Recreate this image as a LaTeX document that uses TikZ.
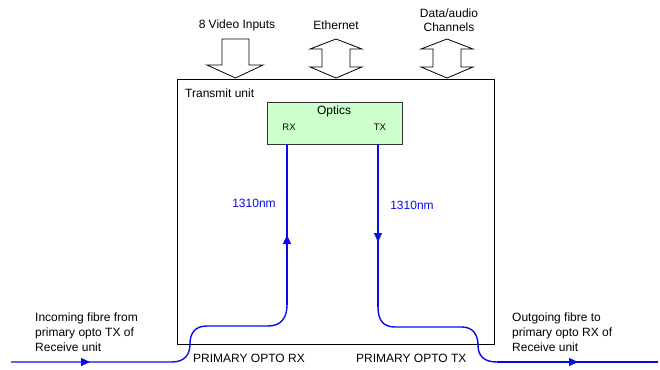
\documentclass[tikz,border=0pt]{standalone}
\usepackage{fontspec}
\setmainfont{Liberation Sans}
\usetikzlibrary{arrows.meta,decorations.markings}
\definecolor{fibre}{RGB}{10,10,235}
\definecolor{opticsfill}{RGB}{204,255,204}
\tikzset{
  x=1pt, y=-1pt,
  lbl/.style={font=\fontsize{12}{15}\selectfont, inner sep=0pt},
  small/.style={font=\fontsize{9.5}{11}\selectfont, inner sep=0pt},
  blue lbl/.style={lbl, text=fibre},
  fib/.style={draw=fibre, line width=1.4pt},
  blockarrow/.style={draw=black, fill=white, line width=0.8pt, line join=miter},
  markat/.style={postaction=decorate, decoration={markings,
      mark=at position #1 with {\arrow{Triangle[length=9pt,width=8pt]}}}},
}
\begin{document}
\begin{tikzpicture}
\useasboundingbox (0,0) rectangle (660,369);

% block arrows at the top
\draw[blockarrow] (222,39) -- (249,39) -- (249,65) -- (263,65) -- (235.5,78) -- (207,65) -- (222,65) -- cycle;
\foreach \cx in {336,447}{
  \draw[blockarrow] (\cx,39) -- (\cx+26,49) -- (\cx+14,49) -- (\cx+14,67) -- (\cx+26,67) -- (\cx,78)
    -- (\cx-26,67) -- (\cx-14,67) -- (\cx-14,49) -- (\cx-26,49) -- cycle;
}
\node[lbl] (vin) at (237,25) {8 Video Inputs};
\node[lbl] (eth) at (336,25) {Ethernet};
\node[lbl, align=center, font=\fontsize{12}{14}\selectfont] (dac) at (449,20) {Data/audio\\Channels};

% transmit unit
\node[draw, line width=0.9pt, minimum width=317pt, minimum height=265pt, anchor=north west, inner sep=0pt] (tu) at (177,79) {};
\node[lbl, anchor=west] (tul) at (185,93) {Transmit unit};

% optics
\node[draw=black!80, fill=opticsfill, line width=0.9pt, minimum width=135pt, minimum height=42pt, anchor=north west, inner sep=0pt] (optics) at (267,102) {};
\node[lbl] (opl) at (334,111) {Optics};
\node[small] (rxl) at (289,127) {RX};
\node[small] (txl) at (380,127) {TX};

% coordinates of the fibre paths
\coordinate (inL) at (11,362);
\coordinate (rxk) at (287,305);
\coordinate (rxt) at (287,144);
\coordinate (txt) at (378,144);
\coordinate (txk) at (378,307);
\coordinate (outk) at (497,362);
\coordinate (outR) at (658,362);

% receive path
\draw[fib, markat=79pt] (inL) -- (172,362)
   .. controls (185,362) and (190,354) .. (190,344)
   .. controls (190,333) and (195,326) .. (207,326) -- (268,326)
   .. controls (281,326) and (287,318) .. (rxk);
\draw[fib, markat=70pt, line cap=butt] (rxk) -- (rxt);

% transmit path
\draw[fib, markat=98pt] (txt) -- (txk);
\draw[fib] (txk) .. controls (378,320) and (383,327) .. (395,327) -- (462,327)
   .. controls (473,327) and (478,335) .. (478,345)
   .. controls (478,356) and (484,362) .. (outk);
\draw[fib, markat=81pt] (outk) -- (outR);

% blue wavelength labels
\node[blue lbl] (w1) at (254,203) {1310nm};
\node[blue lbl] (w2) at (412,205) {1310nm};

% port labels
\node[lbl, anchor=west] (prx) at (193,358) {PRIMARY OPTO RX};
\node[lbl, anchor=west] (ptx) at (356,358) {PRIMARY OPTO TX};

% fibre descriptions
\node[lbl, anchor=west, align=left] (inc) at (35,332) {Incoming fibre from\\primary opto TX of\\Receive unit};
\node[lbl, anchor=west, align=left] (outg) at (512,332) {Outgoing fibre to\\primary opto RX of\\Receive unit};
\end{tikzpicture}
\end{document}
